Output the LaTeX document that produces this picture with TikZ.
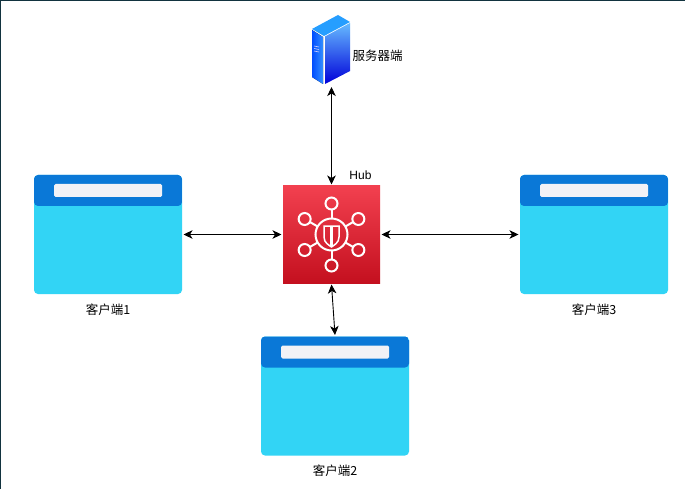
\documentclass[tikz,border=0pt]{standalone}
\usepackage{fontspec}
\setmainfont{Liberation Sans}
\newfontfamily\cjk{Noto Sans CJK SC}
\usetikzlibrary{arrows.meta,positioning,shadings}
\definecolor{winbar}{HTML}{0A78D7}
\definecolor{winbody}{HTML}{32D4F5}
\definecolor{winslot}{HTML}{F2F2F6}
\definecolor{hubtop}{HTML}{F2404F}
\definecolor{hubbottom}{HTML}{C4101F}
\definecolor{framecol}{HTML}{12333F}

\begin{document}
\begin{tikzpicture}[x=1pt,y=-1pt,>={Stealth[length=9pt,width=8.5pt,inset=2.5pt]},
  client/.style={rounded corners=4pt,fill=winbody,minimum width=148pt,minimum height=119pt,inner sep=0pt,outer sep=1.5pt,
    path picture={
      \fill[winbar] (path picture bounding box.north west) rectangle ([yshift=-31pt]path picture bounding box.north east);
      \fill[winslot,rounded corners=1.5pt] ([xshift=20pt,yshift=-9pt]path picture bounding box.north west) rectangle ([xshift=-20pt,yshift=-22pt]path picture bounding box.north east);
    }},
  hubbox/.style={top color=hubtop,bottom color=hubbottom,draw=none,minimum size=97pt,inner sep=0pt,outer sep=1.5pt},
  label/.style={font=\cjk\fontsize{12.5}{14}\selectfont,inner sep=0pt},
  icon/.style={draw=white,line width=2pt},
  arr/.style={<->,line width=.9pt,draw=black}]
\useasboundingbox (0,0) rectangle (685,489);
\fill[white] (0,0) rectangle (685,489);
\draw[framecol,line width=1.5pt] (0,489) -- (0,0) -- (685,0);

\node[hubbox] (hub) at (331.5,234.5) {};
\node[client, left=98pt of hub] (client1) {};
\node[client, right=137pt of hub] (client3) {};
\node[client] (client2) at (335,396) {};
\node[minimum width=39pt,minimum height=69pt,inner sep=0pt,outer sep=3pt] (server) at (331.5,49.5) {};

% server
\fill[left color=blue!70!cyan,right color=blue!55!cyan!80] (312,30) -- (323,37) -- (323,84) -- (312,77) -- cycle;
\shade[top color=blue!45!cyan!60,bottom color=blue!85!black] (325,36.5) -- (350,23) -- (350,71) -- (325,84) -- cycle;
\fill[blue!45!cyan!85] (312,29) -- (338,15) -- (350,22) -- (324,36) -- cycle;
\foreach \y in {46,48.5,51}
  \draw[white!80!blue,line width=.6pt] (314,\y) -- (319,\y+1);

% hub icon
\foreach \a in {30,90,...,330} {
  \draw[icon] (hub.center) ++(\a:16) -- ++(\a:9);
  \draw[icon] (hub.center) ++(\a:31) circle (6);
}
\draw[icon] (hub.center) circle (16);
\draw[icon,line width=1.5pt] (324,226) -- (339,226) -- (339,237) .. controls (339,243) and (334,245) .. (331.5,247) .. controls (329,245) and (324,243) .. (324,237) -- cycle;
\fill[white] (330,226) rectangle (333,246);

\node[label, right=-1.5pt of server,yshift=-6pt] (serverlabel) {服务器端};
\node[label,font=\fontsize{12}{14}\selectfont] (hublabel) at (360.5,175) {Hub};
\node[label, below=8pt of client1] (client1label) {客户端1};
\node[label, below=8pt of client2] (client2label) {客户端2};
\node[label, below=8pt of client3] (client3label) {客户端3};

\draw[arr] (server.south) -- (hub.north);
\draw[arr] (client1) -- (hub);
\draw[arr] (hub) -- (client3);
\draw[arr] (hub.south) -- (client2.north);
\end{tikzpicture}
\end{document}
